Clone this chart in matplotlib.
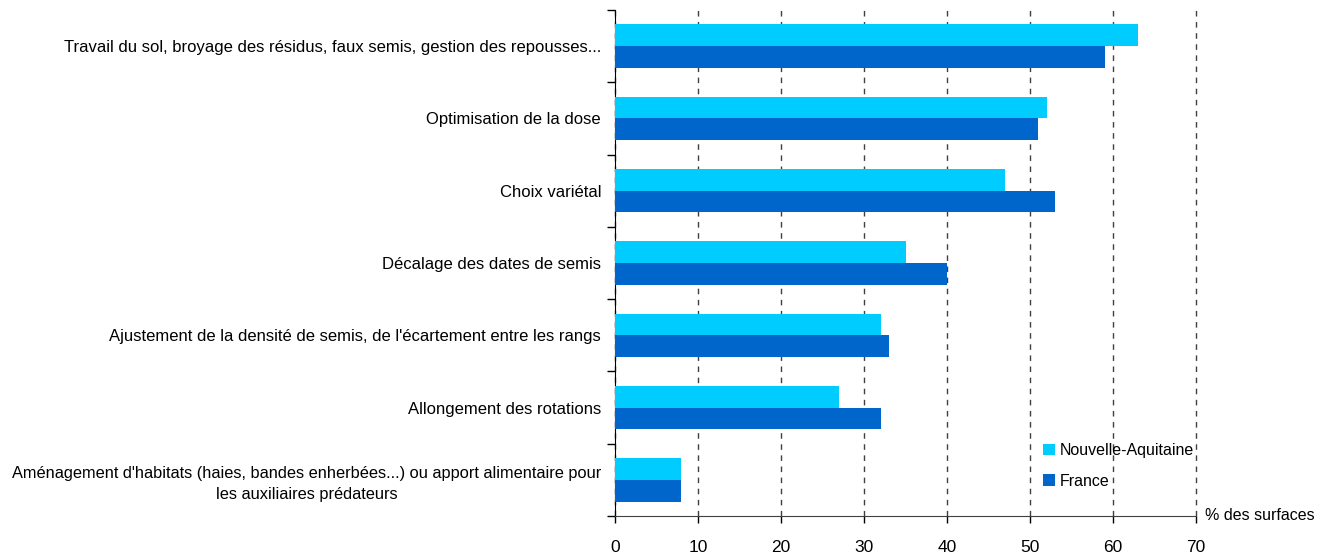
import matplotlib
matplotlib.use("Agg")
import matplotlib.pyplot as plt
import numpy as np

plt.rcParams['font.family'] = ['Liberation Sans', 'DejaVu Sans']

categories = [
    "Travail du sol, broyage des résidus, faux semis, gestion des repousses...",
    "Optimisation de la dose",
    "Choix variétal",
    "Décalage des dates de semis",
    "Ajustement de la densité de semis, de l'écartement entre les rangs",
    "Allongement des rotations",
    "Aménagement d'habitats (haies, bandes enherbées...) ou apport alimentaire pour\nles auxiliaires prédateurs",
]
nouvelle_aquitaine = [63, 52, 47, 35, 32, 27, 8]
france = [59, 51, 53, 40, 33, 32, 8]
x_ticks = [0, 10, 20, 30, 40, 50, 60, 70]

W, H = 1331, 553
fig = plt.figure(figsize=(W / 100, H / 100), dpi=100)
ax = fig.add_axes([615 / W, (H - 516) / H, (1196 - 615) / W, (516 - 10) / H])

n = len(categories)
pos = np.arange(n)
bh = 0.3
ax.barh(pos - bh / 2, nouvelle_aquitaine, height=bh, color="#00CCFF",
        label="Nouvelle-Aquitaine", zorder=3)
ax.barh(pos + bh / 2, france, height=bh, color="#0066CC",
        label="France", zorder=3)

ax.set_ylim(n - 0.5, -0.5)
ax.set_xlim(0, 70)
ax.set_xticks(x_ticks)
ax.set_xticklabels([str(v) for v in x_ticks], fontsize=12.5)
ax.set_yticks(pos)
ax.set_yticklabels(categories, fontsize=12, ha="right", multialignment="center")
for lbl in ax.get_yticklabels():
    if "\n" in lbl.get_text():
        lbl.set_fontsize(11.8)
        lbl.set_linespacing(1.45)
ax.set_yticks(np.arange(n + 1) - 0.5, minor=True)
ax.tick_params(axis="y", which="major", length=0, pad=10)
ax.tick_params(axis="y", which="minor", length=6, width=1, direction="out", color="black")
ax.tick_params(axis="x", length=5, width=1, direction="out", pad=12, color="black")

for sp in ("top", "right"):
    ax.spines[sp].set_visible(False)
ax.spines["left"].set_color("black")
ax.spines["bottom"].set_color("#404040")

ax.xaxis.grid(True, linestyle=(0, (4, 4)), color="#404040", linewidth=1, zorder=1)
ax.set_axisbelow(True)
for gl in ax.get_xgridlines():
    gl.set_clip_on(False)

ax.text(1.015, 0.0, "% des surfaces", transform=ax.transAxes, fontsize=11.5,
        ha="left", va="center")

leg = ax.legend(loc="upper left", bbox_to_anchor=((1037 - 615) / 581, (516 - 437) / 506),
                frameon=False, fontsize=11.5, handlelength=0.7, handleheight=0.7,
                handletextpad=0.3, labelspacing=0.95, borderaxespad=0)

fig.savefig("out.png", dpi=100)
